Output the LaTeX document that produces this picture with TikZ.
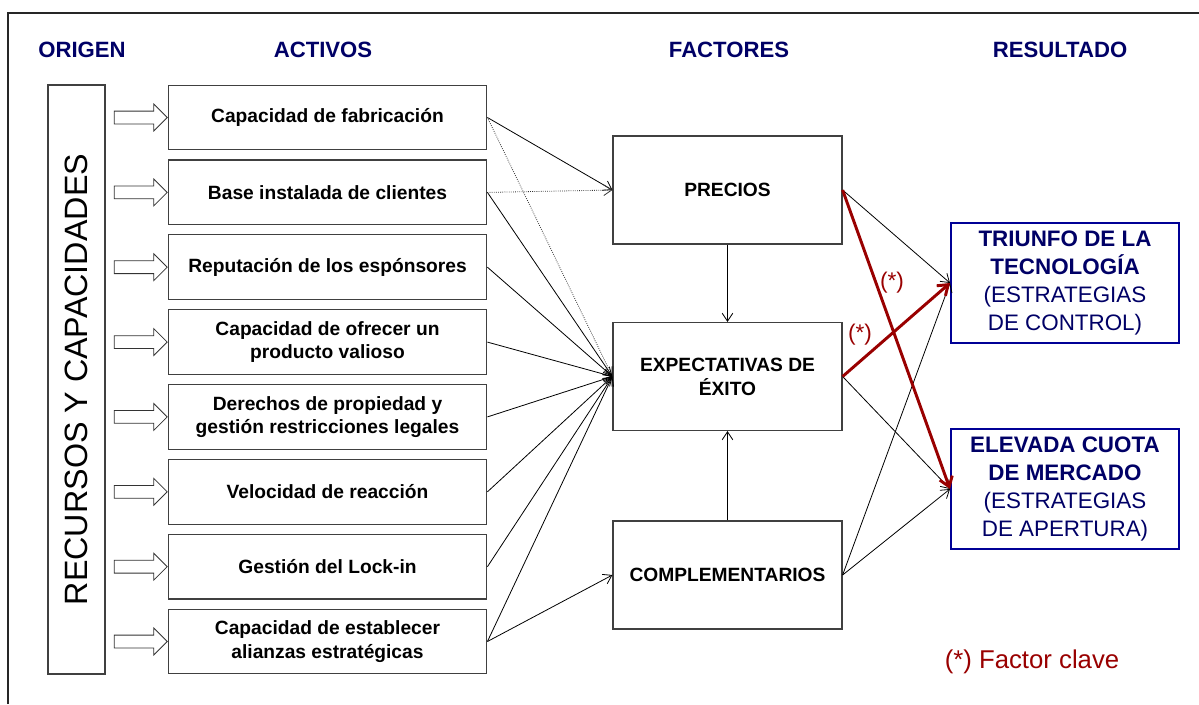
\documentclass[tikz,border=0pt]{standalone}
\usepackage{fontspec}
\setmainfont{Liberation Sans}
\usepackage{tikz}
\usetikzlibrary{arrows.meta, positioning, shapes.arrows}

\definecolor{titulo}{RGB}{0,0,102}
\definecolor{azulcaja}{RGB}{0,0,150}
\definecolor{rojoclave}{RGB}{153,0,0}

\tikzset{
  activo/.style={draw=black!75, line width=0.9pt, minimum width=239pt, minimum height=48.5pt, align=center, font=\fontsize{14.4}{17.5}\selectfont\bfseries},
  factor/.style={draw=black!75, line width=0.9pt, minimum width=171.75pt, minimum height=81pt, align=center, font=\fontsize{14.4}{18}\selectfont\bfseries},
  resultado/.style={draw=azulcaja, line width=1.5pt, minimum width=171pt, minimum height=90pt, align=center, text=titulo, font=\fontsize{16.8}{20.8}\selectfont},
  cabecera/.style={text=titulo, font=\fontsize{16.6}{19}\selectfont\bfseries},
  entrada/.style={draw=black!80, line width=0.6pt, fill=white, single arrow, single arrow head extend=5.25pt, minimum height=39.75pt, inner xsep=0pt, inner ysep=4.5pt},
  flecha/.style={line width=0.6pt, -{Straight Barb[length=6pt,width=8pt]}},
  punteada/.style={flecha, densely dotted, black!80},
  clave/.style={rojoclave, line width=2.2pt, -{Straight Barb[length=7pt,width=10pt]}},
}

\begin{document}
\begin{tikzpicture}[x=0.75pt, y=-0.75pt]
  \useasboundingbox (0,0) rectangle (1199,704);

  % Marco
  \draw[line width=1pt, black!85] (8,704) -- (8,13) -- (1199,13);

  % Cabeceras
  \node[cabecera] (hOrigen) at (82,50) {ORIGEN};
  \node[cabecera] (hActivos) at (323,50) {ACTIVOS};
  \node[cabecera] (hFactores) at (729,50) {FACTORES};
  \node[cabecera] (hResultado) at (1060,50) {RESULTADO};

  % Origen
  \node[draw=black!75, line width=0.9pt, rotate=90, minimum width=441.75pt, minimum height=42.75pt,
        font=\fontsize{24.2}{28}\selectfont] (recursos) at (76.5,379.5) {RECURSOS Y CAPACIDADES};

  % Activos
  \node[activo] (a1) at (327.5,117.5) {Capacidad de fabricación};
  \node[activo] (a2) at (327.5,192.4) {Base instalada de clientes};
  \node[activo] (a3) at (327.5,267.2) {Reputación de los espónsores};
  \node[activo] (a4) at (327.5,342.1) {Capacidad de ofrecer un\\producto valioso};
  \node[activo] (a5) at (327.5,416.9) {Derechos de propiedad y\\gestión restricciones legales};
  \node[activo] (a6) at (327.5,491.8) {Velocidad de reacción};
  \node[activo] (a7) at (327.5,566.7) {Gestión del Lock-in};
  \node[activo] (a8) at (327.5,641.5) {Capacidad de establecer\\alianzas estratégicas};

  % Flechas huecas
  \node[entrada] (e1) at (137.5,117.5) {};
  \node[entrada] (e2) at (137.5,192.4) {};
  \node[entrada] (e3) at (137.5,267.2) {};
  \node[entrada] (e4) at (137.5,342.1) {};
  \node[entrada] (e5) at (137.5,416.9) {};
  \node[entrada] (e6) at (137.5,491.8) {};
  \node[entrada] (e7) at (137.5,566.7) {};
  \node[entrada] (e8) at (137.5,641.5) {};

  % Factores
  \node[factor] (precios) at (727.5,190) {PRECIOS};
  \node[factor] (expect) at (727.5,376.5) {EXPECTATIVAS DE\\ÉXITO};
  \node[factor] (compl) at (727.5,575) {COMPLEMENTARIOS};

  % Resultados
  \node[resultado] (triunfo) at (1065,283) {\textbf{TRIUNFO DE LA}\\\textbf{TECNOLOGÍA}\\(ESTRATEGIAS\\DE CONTROL)};
  \node[resultado] (cuota) at (1065,489) {\textbf{ELEVADA CUOTA}\\\textbf{DE MERCADO}\\(ESTRATEGIAS\\DE APERTURA)};

  % Activos -> factores
  \draw[flecha] (a1.east) -- (precios.west);
  \draw[punteada] (a1.east) -- (expect.west);
  \draw[punteada] (a2.east) -- (precios.west);
  \draw[flecha] (a2.east) -- (expect.west);
  \draw[flecha] (a3.east) -- (expect.west);
  \draw[flecha] (a4.east) -- (expect.west);
  \draw[flecha] (a5.east) -- (expect.west);
  \draw[flecha] (a6.east) -- (expect.west);
  \draw[flecha] (a7.east) -- (expect.west);
  \draw[flecha] (a8.east) -- (expect.west);
  \draw[flecha] (a8.east) -- (compl.west);

  % Entre factores
  \draw[flecha] (precios.south) -- (expect.north);
  \draw[flecha] (compl.north) -- (expect.south);

  % Factores -> resultados
  \draw[flecha] (precios.east) -- (triunfo.west);
  \draw[flecha] (expect.east) -- (cuota.west);
  \draw[flecha] (compl.east) -- (triunfo.west);
  \draw[flecha] (compl.east) -- (cuota.west);
  \draw[clave] (precios.east) -- (cuota.west);
  \draw[clave] (expect.east) -- (triunfo.west);
  \node[rojoclave, font=\fontsize{17}{20}\selectfont] (ast1) at (892,283) {(*)};
  \node[rojoclave, font=\fontsize{17}{20}\selectfont] (ast2) at (860,335) {(*)};

  % Leyenda
  \node[rojoclave, font=\fontsize{19.3}{22}\selectfont] (leyenda) at (1032,662) {(*) Factor clave};
\end{tikzpicture}
\end{document}
